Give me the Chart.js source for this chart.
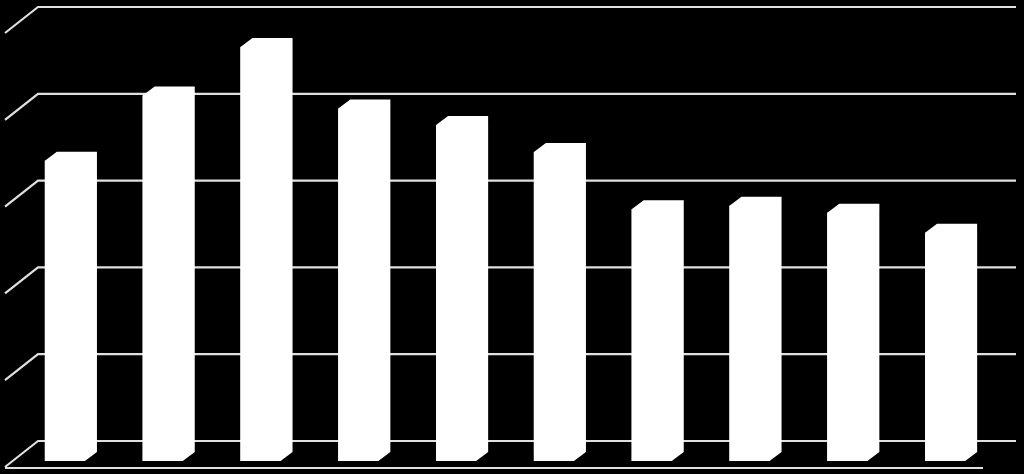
<!DOCTYPE html>
<html lang="en">
<head>
    <meta charset="UTF-8">
    <title>Bars</title>
    <script src="https://cdn.jsdelivr.net/npm/chart.js"></script>
    <style>
        html, body { margin: 0; padding: 0; background: #000; }
        .chart-box { width: 1024px; height: 474px; position: relative; }
    </style>
</head>
<body>

<div class="chart-box">
    <canvas id="barChart"></canvas>
</div>

<script>
// values (no labels shown on the original)
const categories = ["1", "2", "3", "4", "5", "6", "7", "8", "9", "10"];
const values = [3.46, 4.21, 4.77, 4.06, 3.87, 3.56, 2.90, 2.94, 2.86, 2.63];
const yTicks = [0, 1, 2, 3, 4, 5];

// fake 3D: back wall is shifted up/right from the bar front faces
const wallShift = { x: 25, y: -20 };
const sideWall = { x: 33, y: 26 };
const barDepth = { x: 12, y: -9 };

const depthPlugin = {
    id: "depth",
    beforeDatasetsDraw(chart) {
        const ctx = chart.ctx;
        const area = chart.chartArea;
        const yScale = chart.scales.y;
        const wallLeft = area.left + wallShift.x - 3;
        const wallRight = area.right + wallShift.x - 3;

        ctx.save();
        ctx.strokeStyle = "#e0e0e0";
        ctx.lineWidth = 2.2;
        yTicks.forEach(v => {
            const yb = yScale.getPixelForValue(v) + wallShift.y;
            ctx.beginPath();
            ctx.moveTo(wallLeft - sideWall.x, yb + sideWall.y);
            ctx.lineTo(wallLeft, yb);
            ctx.lineTo(wallRight, yb);
            ctx.stroke();
        });
        // front edge of the floor
        const yf = yScale.getPixelForValue(0) + wallShift.y + sideWall.y + 1;
        ctx.beginPath();
        ctx.moveTo(wallLeft - sideWall.x, yf);
        ctx.lineTo(area.right - 11, yf);
        ctx.stroke();
        ctx.restore();
    },
    afterDatasetsDraw(chart) {
        // fill the whole box outline in white so no seams show
        const ctx = chart.ctx;
        ctx.save();
        ctx.fillStyle = "#ffffff";
        chart.getDatasetMeta(0).data.forEach(bar => {
            const l = bar.x - bar.width / 2;
            const r = bar.x + bar.width / 2;
            ctx.beginPath();
            ctx.moveTo(l, bar.base);
            ctx.lineTo(l, bar.y);
            ctx.lineTo(l + barDepth.x, bar.y + barDepth.y);
            ctx.lineTo(r + barDepth.x, bar.y + barDepth.y);
            ctx.lineTo(r + barDepth.x, bar.base + barDepth.y);
            ctx.lineTo(r, bar.base);
            ctx.closePath();
            ctx.fill();
        });
        ctx.restore();
    }
};

new Chart(document.getElementById("barChart"), {
    type: "bar",
    data: {
        labels: categories,
        datasets: [{
            data: values,
            backgroundColor: "#ffffff",
            borderWidth: 0,
            barPercentage: 0.41,
            categoryPercentage: 1.0
        }]
    },
    options: {
        responsive: true,
        maintainAspectRatio: false,
        animation: false,
        layout: { padding: { top: 27, bottom: 13, left: 16, right: 30 } },
        plugins: {
            legend: { display: false },
            tooltip: { enabled: false }
        },
        scales: {
            x: { display: false },
            y: { display: false, min: 0, max: 5 }
        }
    },
    plugins: [depthPlugin]
});
</script>

</body>
</html>
